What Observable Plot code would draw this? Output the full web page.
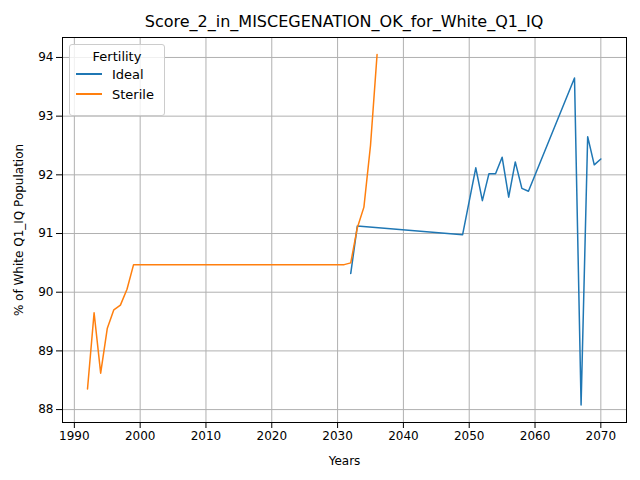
<!DOCTYPE html>
<html lang="en">
<head>
<meta charset="UTF-8">
<script src="https://cdn.jsdelivr.net/npm/d3@7"></script>
<script src="https://cdn.jsdelivr.net/npm/@observablehq/plot@0.6"></script>
<style>
  body { margin: 0; font-family: 'DejaVu Sans', sans-serif; background: #fff; }
  #wrap { position: relative; width: 640px; height: 480px; }
  #title { position: absolute; top: 12px; left: 62px; width: 564px; text-align: center; font-size: 16px; }
  #legend { position: absolute; left: 69px; top: 44px; width: 94px; height: 70px; border: 1px solid #ccc; border-radius: 3px; background: rgba(255,255,255,0.8); font-size: 13px; }
  #legend .h { text-align: center; margin-top: 4px; }
  #legend .r { display: flex; align-items: center; margin-left: 6px; height: 20px; }
  #legend .r span { display: inline-block; width: 26px; height: 2px; margin-right: 10px; }
</style>
</head>
<body>
<div id="wrap">
  <div id="myplot"></div>
  <div id="title">Score_2_in_MISCEGENATION_OK_for_White_Q1_IQ</div>
  <div id="legend">
    <div class="h">Fertility</div>
    <div class="r"><span style="background:#1f77b4"></span>Ideal</div>
    <div class="r"><span style="background:#ff7f0e"></span>Sterile</div>
  </div>
</div>
<script>
const idealYears = [2032, 2033, 2049, 2051, 2052, 2053, 2054, 2055, 2056, 2057, 2058, 2059, 2066, 2067, 2068, 2069, 2070];
const idealValues = [90.32, 91.13, 90.98, 92.12, 91.56, 92.02, 92.02, 92.3, 91.62, 92.22, 91.77, 91.72, 93.65, 88.08, 92.65, 92.17, 92.27];
const sterileYears = [1992, 1993, 1994, 1995, 1996, 1997, 1998, 1999, 2031, 2032, 2033, 2034, 2035, 2036];
const sterileValues = [88.35, 89.65, 88.62, 89.38, 89.7, 89.78, 90.05, 90.47, 90.47, 90.5, 91.1, 91.45, 92.5, 94.05];

const ideal = idealYears.map((y, i) => ({year: y, v: idealValues[i]}));
const sterile = sterileYears.map((y, i) => ({year: y, v: sterileValues[i]}));

const plot = Plot.plot({
  width: 640, height: 480,
  marginLeft: 62, marginRight: 14, marginTop: 37, marginBottom: 58,
  style: {fontFamily: "DejaVu Sans", fontSize: "12px"},
  x: {domain: [1988.2, 2073.9], ticks: d3.range(1990, 2071, 10), tickFormat: d => String(d), label: "Years", labelAnchor: "center", labelArrow: "none", labelOffset: 42},
  y: {domain: [87.78, 94.34], ticks: d3.range(88, 95, 1), tickFormat: d => String(d), label: "% of White Q1_IQ Population", labelAnchor: "center", labelArrow: "none", labelOffset: 48},
  marks: [
    Plot.gridX(d3.range(1990, 2071, 10), {stroke: "#b0b0b0", strokeOpacity: 1}),
    Plot.gridY(d3.range(88, 95, 1), {stroke: "#b0b0b0", strokeOpacity: 1}),
    Plot.frame({stroke: "#000"}),
    Plot.line(ideal, {x: "year", y: "v", stroke: "#1f77b4", strokeWidth: 1.5}),
    Plot.line(sterile, {x: "year", y: "v", stroke: "#ff7f0e", strokeWidth: 1.5})
  ]
});
document.querySelector("#myplot").append(plot);
</script>
</body>
</html>
